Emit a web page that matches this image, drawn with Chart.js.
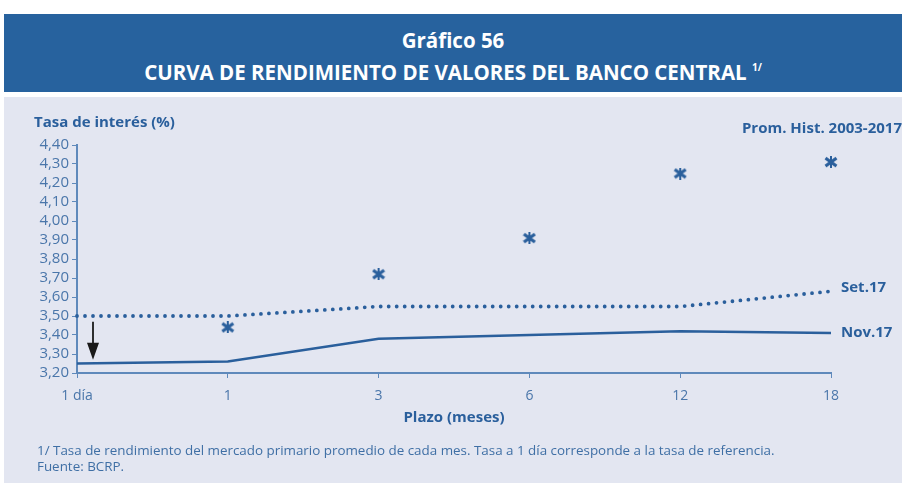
<!DOCTYPE html>
<html>
<head>
<meta charset="utf-8">
<script src="https://cdn.jsdelivr.net/npm/chart.js@4.4.1/dist/chart.umd.min.js"></script>
<style>
  body { margin:0; background:#fff; width:902px; height:483px; overflow:hidden; font-family:"Open Sans", sans-serif; }
  #head { position:absolute; left:4px; top:14px; width:898px; height:78px; background:#27629e; color:#fff; text-align:center; font-weight:bold; font-size:20.5px; line-height:27px; padding-top:13px; box-sizing:border-box; }
  #head sup { font-size:10px; vertical-align:9px; }
  #panel { position:absolute; left:4px; top:97px; width:898px; height:386px; background:#e3e6f1; }
  #wrap { position:absolute; left:0; top:0; width:898px; height:386px; }
  #note { position:absolute; left:33px; top:345px; font-size:13.4px; line-height:16px; color:#3f6fa5; }
</style>
</head>
<body>
<div id="head">Gráfico 56<br>CURVA DE RENDIMIENTO DE VALORES DEL BANCO CENTRAL <sup>1/</sup></div>
<div id="panel">
  <div id="wrap"><canvas id="myChart" width="898" height="386"></canvas></div>
  <div id="note">1/ Tasa de rendimiento del mercado primario promedio de cada mes. Tasa a 1 día corresponde a la tasa de referencia.<br>Fuente: BCRP.</div>
</div>
<script>
var plazos   = ["1 día", "1", "3", "6", "12", "18"];
var nov17    = [3.25, 3.26, 3.38, 3.40, 3.42, 3.41];
var set17    = [3.50, 3.50, 3.55, 3.55, 3.55, 3.63];
var promHist = [null, 3.44, 3.72, 3.91, 4.25, 4.31];

var azul = "#2a5f9c";
var ejes = "#5f89bb";

// bold X with a short vertical stroke, used as the point marker
function asterisco() {
  var c = document.createElement("canvas");
  c.width = 14; c.height = 12;
  var g = c.getContext("2d");
  g.strokeStyle = azul;
  g.lineWidth = 3.2;
  g.beginPath();
  g.moveTo(1.5, 2); g.lineTo(12.5, 10);
  g.moveTo(1.5, 10); g.lineTo(12.5, 2);
  g.stroke();
  g.lineWidth = 2;
  g.beginPath();
  g.moveTo(7, 0); g.lineTo(7, 12);
  g.stroke();
  return c;
}

// labels, titles and the arrow drawn over the chart
var extras = {
  id: "extras",
  afterDraw: function (chart) {
    var ctx = chart.ctx, x = chart.scales.x, y = chart.scales.y;
    var xEnd = x.getPixelForValue(5);
    ctx.save();
    ctx.fillStyle = azul;
    ctx.font = "bold 15px 'Open Sans'";
    ctx.textBaseline = "middle";
    ctx.textAlign = "left";
    ctx.fillText("Set.17", xEnd + 10, y.getPixelForValue(set17[5]) - 4);
    ctx.fillText("Nov.17", xEnd + 10, y.getPixelForValue(nov17[5]));
    ctx.fillText("Tasa de interés (%)", 30, 26);
    ctx.textAlign = "right";
    ctx.fillText("Prom. Hist. 2003-2017", 898, 32);
    ctx.textAlign = "center";
    ctx.fillText("Plazo (meses)", (x.left + x.right) / 2, 321);

    // arrow pointing down to the 1 day rate
    var ax = x.getPixelForValue(0) + 16;
    var top = y.getPixelForValue(3.47), tip = y.getPixelForValue(3.27);
    ctx.strokeStyle = "#1a1a1a";
    ctx.fillStyle = "#1a1a1a";
    ctx.lineWidth = 1.8;
    ctx.beginPath();
    ctx.moveTo(ax, top);
    ctx.lineTo(ax, tip - 12);
    ctx.stroke();
    ctx.beginPath();
    ctx.moveTo(ax - 6, tip - 17);
    ctx.lineTo(ax + 6, tip - 17);
    ctx.lineTo(ax, tip);
    ctx.closePath();
    ctx.fill();
    ctx.restore();
  }
};

new Chart("myChart", {
  type: "line",
  data: {
    labels: plazos,
    datasets: [
      { label: "Nov.17", data: nov17, borderColor: azul, borderWidth: 2.5, pointRadius: 0, tension: 0 },
      { label: "Set.17", data: set17, borderColor: azul, borderWidth: 3.8, borderDash: [0, 8], borderCapStyle: "round", pointRadius: 0, tension: 0 },
      { label: "Prom. Hist. 2003-2017", data: promHist, showLine: false, pointStyle: asterisco(), pointRadius: 7, borderColor: azul, backgroundColor: azul }
    ]
  },
  options: {
    responsive: false,
    animation: false,
    layout: { padding: { left: 0, top: 48, right: 71, bottom: 0 } },
    plugins: { legend: { display: false }, tooltip: { enabled: false } },
    scales: {
      x: {
        offset: false,
        grid: { drawOnChartArea: false, color: ejes, tickLength: 5, tickWidth: 1 },
        border: { color: ejes, width: 2 },
        ticks: { color: "#4a76aa", font: { family: "Open Sans", size: 14 }, padding: 10, maxRotation: 0 },
        afterFit: function (s) { s.height = 110; }
      },
      y: {
        min: 3.2, max: 4.4,
        grid: { drawOnChartArea: false, color: ejes, tickLength: 5, tickWidth: 1 },
        border: { color: ejes, width: 2 },
        ticks: {
          stepSize: 0.1, autoSkip: false, color: "#4a76aa", font: { family: "Open Sans", size: 15 }, padding: 3,
          callback: function (v) { return v.toFixed(2).replace(".", ","); }
        },
        afterFit: function (s) { s.width = 73; }
      }
    }
  },
  plugins: [extras]
});
</script>
</body>
</html>
